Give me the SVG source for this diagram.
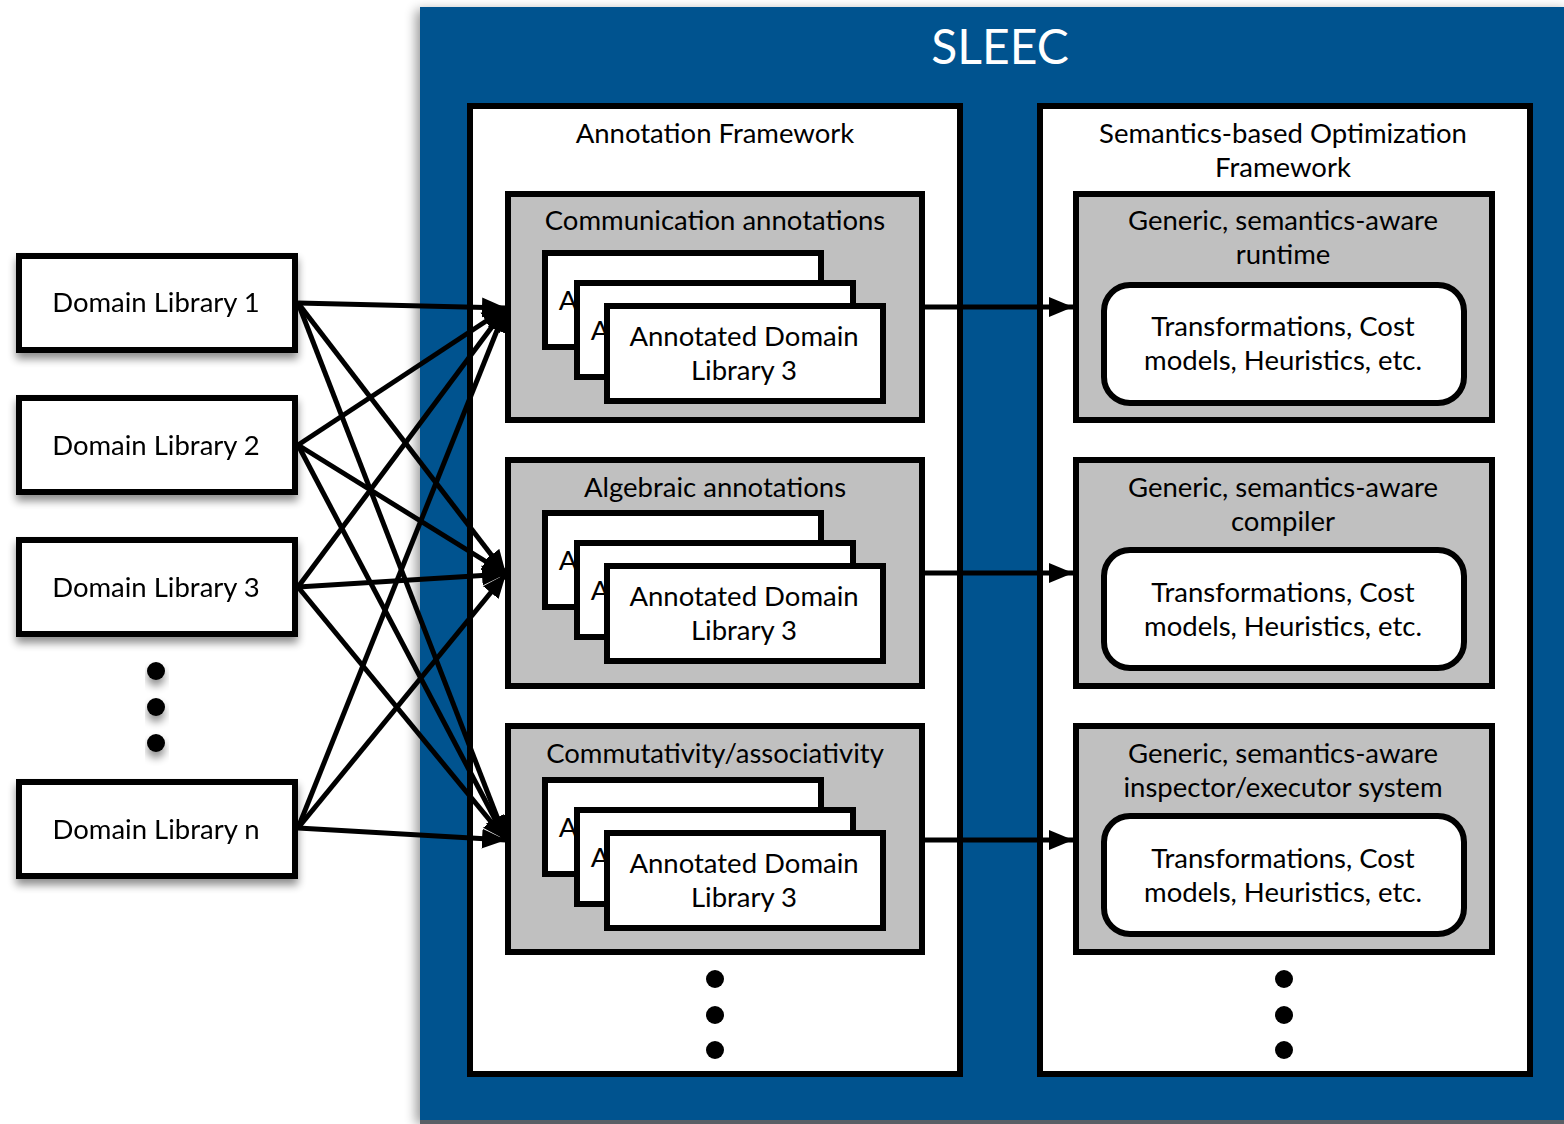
<svg xmlns="http://www.w3.org/2000/svg" width="1564" height="1124" viewBox="0 0 1564 1124">
  <defs>
    <filter id="shadow" x="-10%" y="-10%" width="130%" height="140%">
      <feGaussianBlur in="SourceAlpha" stdDeviation="4"/>
      <feOffset dx="0" dy="6" result="b"/>
      <feComponentTransfer><feFuncA type="linear" slope="0.45"/></feComponentTransfer>
      <feMerge><feMergeNode/><feMergeNode in="SourceGraphic"/></feMerge>
    </filter>
    <filter id="bgshadow" x="-5%" y="-5%" width="110%" height="110%">
      <feGaussianBlur in="SourceAlpha" stdDeviation="6"/>
      <feOffset dx="-4" dy="3" result="b"/>
      <feComponentTransfer><feFuncA type="linear" slope="0.4"/></feComponentTransfer>
      <feMerge><feMergeNode/><feMergeNode in="SourceGraphic"/></feMerge>
    </filter>
    <marker id="arrow" markerUnits="userSpaceOnUse" markerWidth="26" markerHeight="22" refX="24" refY="11" orient="auto">
      <path d="M0,1 L24,11 L0,21 Z" fill="#000"/>
    </marker>
  </defs>
  <style>
    text { font-family: Lato, "Open Sans", "Liberation Sans", sans-serif; fill: #000; text-anchor: middle; }
    .lbl { font-size: 27.5px; }
    .title { font-size: 48px; fill: #fff; }
    .panel { fill: #fff; stroke: #000; stroke-width: 6; }
    .group { fill: #c0c0c0; stroke: #000; stroke-width: 6; }
    .card { fill: #fff; stroke: #000; stroke-width: 6; }
    .lib { fill: #fff; stroke: #000; stroke-width: 6; }
    .edge { stroke: #000; stroke-width: 5; fill: none; marker-end: url(#arrow); }
  </style>

  <!-- SLEEC container -->
  <g id="sleec">
    <rect x="420" y="7" width="1150" height="1114" fill="#01538f" filter="url(#bgshadow)"/>
    <rect x="420" y="1120" width="1144" height="4" fill="#5a5f66"/>
    <text class="title" x="1000" y="64">SLEEC</text>
  </g>

  <!-- Annotation framework -->
  <g id="annotation-framework">
    <rect class="panel" x="470" y="106" width="490" height="968"/>
    <text class="lbl" x="715" y="143">Annotation Framework</text>
    <circle cx="715" cy="979" r="9"/>
    <circle cx="715" cy="1015" r="9"/>
    <circle cx="715" cy="1050" r="9"/>
  </g>

  <g id="comm-annotations">
    <rect class="group" x="508" y="194" width="414" height="226"/>
    <text class="lbl" x="715" y="230">Communication annotations</text>
    <rect class="card" x="545" y="253" width="276" height="94"/>
    <text class="lbl" x="568" y="310">A</text>
    <rect class="card" x="577" y="283" width="276" height="94"/>
    <text class="lbl" x="600" y="340">A</text>
    <rect class="card" x="607" y="306" width="276" height="95"/>
    <text class="lbl" x="744" y="346">Annotated Domain</text>
    <text class="lbl" x="744" y="380">Library 3</text>
  </g>

  <g id="alg-annotations">
    <rect class="group" x="508" y="460" width="414" height="226"/>
    <text class="lbl" x="715" y="497">Algebraic annotations</text>
    <rect class="card" x="545" y="513" width="276" height="94"/>
    <text class="lbl" x="568" y="570">A</text>
    <rect class="card" x="577" y="543" width="276" height="94"/>
    <text class="lbl" x="600" y="600">A</text>
    <rect class="card" x="607" y="566" width="276" height="95"/>
    <text class="lbl" x="744" y="606">Annotated Domain</text>
    <text class="lbl" x="744" y="640">Library 3</text>
  </g>

  <g id="comm-assoc">
    <rect class="group" x="508" y="726" width="414" height="226"/>
    <text class="lbl" x="715" y="763">Commutativity/associativity</text>
    <rect class="card" x="545" y="780" width="276" height="94"/>
    <text class="lbl" x="568" y="837">A</text>
    <rect class="card" x="577" y="810" width="276" height="94"/>
    <text class="lbl" x="600" y="867">A</text>
    <rect class="card" x="607" y="833" width="276" height="95"/>
    <text class="lbl" x="744" y="873">Annotated Domain</text>
    <text class="lbl" x="744" y="907">Library 3</text>
  </g>

  <!-- Optimization framework -->
  <g id="optimization-framework">
    <rect class="panel" x="1040" y="106" width="490" height="968"/>
    <text class="lbl" x="1283" y="143">Semantics-based Optimization</text>
    <text class="lbl" x="1283" y="177">Framework</text>
    <circle cx="1284" cy="979" r="9"/>
    <circle cx="1284" cy="1015" r="9"/>
    <circle cx="1284" cy="1050" r="9"/>
  </g>

  <g id="runtime">
    <rect class="group" x="1076" y="194" width="416" height="226"/>
    <text class="lbl" x="1283" y="230">Generic, semantics-aware</text>
    <text class="lbl" x="1283" y="264">runtime</text>
    <rect class="card" x="1104" y="285" width="360" height="118" rx="26"/>
    <text class="lbl" x="1283" y="336">Transformations, Cost</text>
    <text class="lbl" x="1283" y="370">models, Heuristics, etc.</text>
  </g>

  <g id="compiler">
    <rect class="group" x="1076" y="460" width="416" height="226"/>
    <text class="lbl" x="1283" y="497">Generic, semantics-aware</text>
    <text class="lbl" x="1283" y="531">compiler</text>
    <rect class="card" x="1104" y="550" width="360" height="118" rx="26"/>
    <text class="lbl" x="1283" y="602">Transformations, Cost</text>
    <text class="lbl" x="1283" y="636">models, Heuristics, etc.</text>
  </g>

  <g id="inspector-executor">
    <rect class="group" x="1076" y="726" width="416" height="226"/>
    <text class="lbl" x="1283" y="763">Generic, semantics-aware</text>
    <text class="lbl" x="1283" y="797">inspector/executor system</text>
    <rect class="card" x="1104" y="816" width="360" height="118" rx="26"/>
    <text class="lbl" x="1283" y="868">Transformations, Cost</text>
    <text class="lbl" x="1283" y="902">models, Heuristics, etc.</text>
  </g>

  <!-- Domain libraries -->
  <g id="lib-1" filter="url(#shadow)">
    <rect class="lib" x="19" y="256" width="276" height="94"/>
    <text class="lbl" x="156" y="312">Domain Library 1</text>
  </g>
  <g id="lib-2" filter="url(#shadow)">
    <rect class="lib" x="19" y="398" width="276" height="94"/>
    <text class="lbl" x="156" y="455">Domain Library 2</text>
  </g>
  <g id="lib-3" filter="url(#shadow)">
    <rect class="lib" x="19" y="540" width="276" height="94"/>
    <text class="lbl" x="156" y="597">Domain Library 3</text>
  </g>
  <g id="lib-dots" filter="url(#shadow)">
    <circle cx="156" cy="671" r="9"/>
    <circle cx="156" cy="707" r="9"/>
    <circle cx="156" cy="743" r="9"/>
  </g>
  <g id="lib-n" filter="url(#shadow)">
    <rect class="lib" x="19" y="782" width="276" height="94"/>
    <text class="lbl" x="156" y="839">Domain Library n</text>
  </g>

  <!-- Connectors -->
  <g id="connectors">
    <line class="edge" x1="298" y1="303" x2="506" y2="308"/>
    <line class="edge" x1="298" y1="303" x2="506" y2="574"/>
    <line class="edge" x1="298" y1="303" x2="506" y2="840"/>
    <line class="edge" x1="298" y1="445" x2="506" y2="308"/>
    <line class="edge" x1="298" y1="445" x2="506" y2="574"/>
    <line class="edge" x1="298" y1="445" x2="506" y2="840"/>
    <line class="edge" x1="298" y1="587" x2="506" y2="308"/>
    <line class="edge" x1="298" y1="587" x2="506" y2="574"/>
    <line class="edge" x1="298" y1="587" x2="506" y2="840"/>
    <line class="edge" x1="298" y1="828" x2="506" y2="308"/>
    <line class="edge" x1="298" y1="828" x2="506" y2="574"/>
    <line class="edge" x1="298" y1="828" x2="506" y2="840"/>
    <line class="edge" x1="922" y1="307" x2="1073" y2="307"/>
    <line class="edge" x1="922" y1="573" x2="1073" y2="573"/>
    <line class="edge" x1="922" y1="840" x2="1073" y2="840"/>
  </g>
</svg>
